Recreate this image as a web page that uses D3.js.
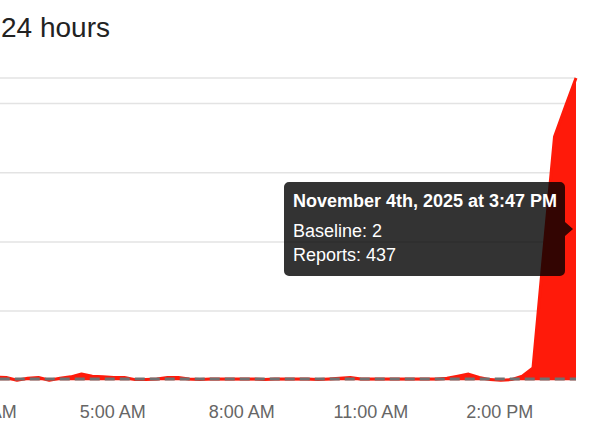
<!DOCTYPE html>
<html>
<head>
<meta charset="utf-8">
<script src="https://cdn.jsdelivr.net/npm/d3@7"></script>
<style>
  html, body { margin: 0; padding: 0; background: #fff; }
  svg { display: block; font-family: "Liberation Sans", Arial, Helvetica, sans-serif; }
</style>
</head>
<body>
<svg id="chart" width="607" height="447"></svg>
<script>
// ---- data ----
const titleText = "24 hours";
const endTimeStr = "2025-11-04 15:47";      // last (hovered) sample
const stepMinutes = 15;
// visible reports, every 15 minutes, oldest first (ending at 3:47 PM)
const reports = [
  3, 5, 4, 0, 3, 4, 0, 3, 5, 9,
  6, 5, 4, 4, 1, 1, 2, 4, 4, 2,
  1, 2, 2, 2, 2, 2, 1, 2, 2, 2,
  2, 1, 2, 3, 4, 2, 2, 2, 2, 2,
  2, 2, 2, 3, 6, 9, 4, 1, 0, 1,
  6, 18, 186, 352, 395, 437
];
const baseline = reports.map(() => 2);
const yTicks = [100, 200, 300, 400];
const xTickLabels = ["2:00 AM", "5:00 AM", "8:00 AM", "11:00 AM", "2:00 PM"];
const tickDay = "2025-11-04";

// ---- setup ----
const parseT = d3.timeParse("%Y-%m-%d %H:%M");
const parseTick = d3.timeParse("%Y-%m-%d %I:%M %p");
const endTime = parseT(endTimeStr);
const n = reports.length;
const times = reports.map((_, i) => d3.timeMinute.offset(endTime, -stepMinutes * (n - 1 - i)));
const data = times.map((t, i) => ({ t, v: reports[i], b: baseline[i] }));

const svg = d3.select("#chart");
const plotRight = 576, plotTop = 78, plotBottom = 380.3;
const pxPerHour = 43;

const x = d3.scaleTime()
  .domain([d3.timeHour.offset(endTime, -24), endTime])
  .range([plotRight - 24 * pxPerHour, plotRight]);
const yMax = d3.max(reports);
const y = d3.scaleLinear().domain([0, yMax]).range([plotBottom, plotTop]);

// title
svg.append("text")
  .attr("x", 1).attr("y", 36.5)
  .attr("font-size", 28).attr("fill", "#222")
  .text(titleText);

// gridlines
svg.append("g").selectAll("line")
  .data(yTicks.concat([yMax]))
  .join("line")
  .attr("x1", x.range()[0]).attr("x2", plotRight)
  .attr("y1", d => y(d)).attr("y2", d => y(d))
  .attr("stroke", "#e3e3e3").attr("stroke-width", 1.5);

// reports area + line
const red = "#ff1a0a";
const curve = d3.curveCatmullRom.alpha(0.5);
svg.append("path").datum(data)
  .attr("d", d3.area().x(d => x(d.t)).y0(y(0)).y1(d => y(d.v)).curve(d3.curveLinear))
  .attr("fill", red);
svg.append("path").datum(data)
  .attr("d", d3.line().x(d => x(d.t)).y(d => y(d.v)).curve(d3.curveLinear))
  .attr("fill", "none").attr("stroke", red).attr("stroke-width", 3)
  .attr("stroke-linejoin", "round");

// baseline dashed
svg.append("path").datum(data)
  .attr("d", d3.line().x(d => x(d.t)).y(d => y(d.b)))
  .attr("fill", "none").attr("stroke", "#707070")
  .attr("stroke-width", 3).attr("stroke-dasharray", "10,5");

// x axis
const tickVals = xTickLabels.map(s => parseTick(tickDay + " " + s));
const xAxis = d3.axisBottom(x).tickValues(tickVals)
  .tickFormat(d3.timeFormat("%-I:%M %p")).tickSize(0).tickPadding(0);
const gx = svg.append("g").attr("transform", "translate(0,418)").call(xAxis);
gx.select(".domain").remove();
gx.selectAll("text")
  .attr("dy", 0).attr("y", 0)
  .attr("font-size", 18).attr("fill", "#666")
  .attr("font-family", "\"Liberation Sans\", Arial, sans-serif");

// tooltip for last point
const last = data[n - 1];
const ordinal = d => { const s = ["th","st","nd","rd"], v = d % 100; return d + (s[(v - 20) % 10] || s[v] || s[0]); };
const tipTitle = d3.timeFormat("%B ")(last.t) + ordinal(last.t.getDate()) + d3.timeFormat(", %Y at %-I:%M %p")(last.t);

const tipX1 = 284, tipY1 = 182, tipY2 = 276;
const tipX2 = x(last.t) - 11, tipR = 5;
const arrowY = 229, arrowTip = x(last.t) - 3;
const p = d3.path();
p.moveTo(tipX1 + tipR, tipY1);
p.lineTo(tipX2 - tipR, tipY1);
p.arcTo(tipX2, tipY1, tipX2, tipY1 + tipR, tipR);
p.lineTo(tipX2, arrowY - 7);
p.lineTo(arrowTip, arrowY);
p.lineTo(tipX2, arrowY + 7);
p.lineTo(tipX2, tipY2 - tipR);
p.arcTo(tipX2, tipY2, tipX2 - tipR, tipY2, tipR);
p.lineTo(tipX1 + tipR, tipY2);
p.arcTo(tipX1, tipY2, tipX1, tipY2 - tipR, tipR);
p.lineTo(tipX1, tipY1 + tipR);
p.arcTo(tipX1, tipY1, tipX1 + tipR, tipY1, tipR);
p.closePath();
const tip = svg.append("g");
tip.append("path").attr("d", p.toString()).attr("fill", "rgba(0,0,0,0.8)");
tip.append("text").attr("x", 293).attr("y", 206.5)
  .attr("font-size", 18).attr("font-weight", "bold").attr("fill", "#fff").text(tipTitle);
tip.append("text").attr("x", 293).attr("y", 236.5)
  .attr("font-size", 18).attr("fill", "#fff").text("Baseline: " + last.b);
tip.append("text").attr("x", 293).attr("y", 261)
  .attr("font-size", 18).attr("fill", "#fff").text("Reports: " + last.v);
</script>
</body>
</html>
